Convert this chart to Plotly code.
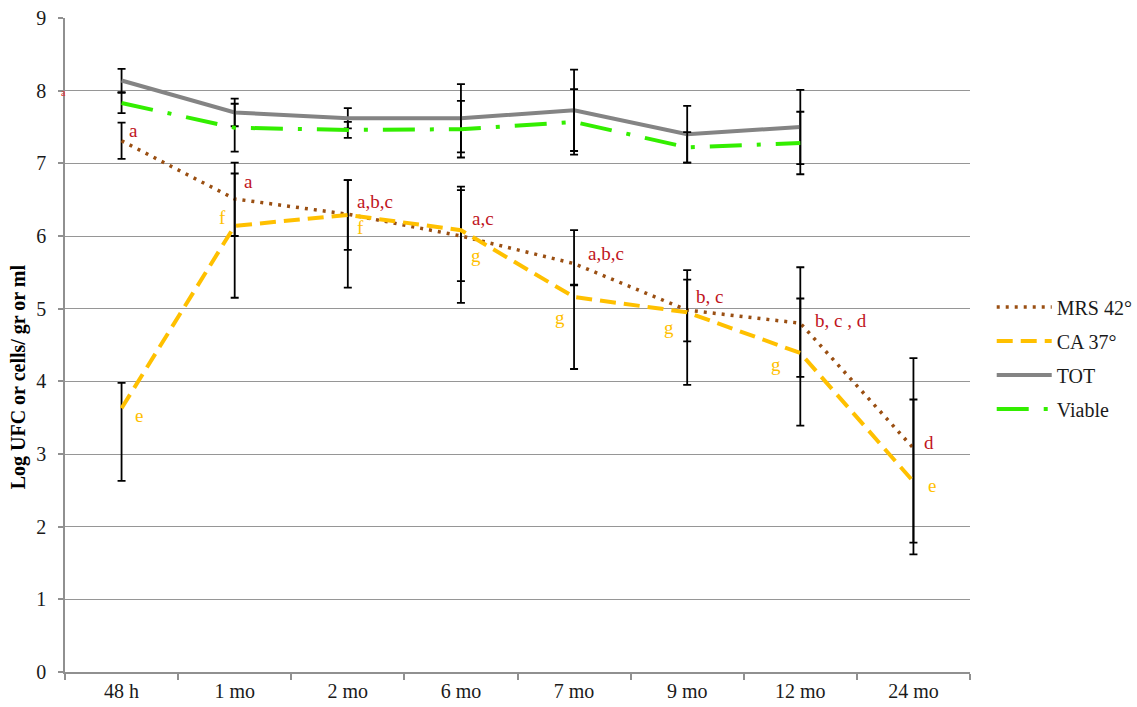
import plotly.graph_objects as go

# Sampling times
categories = ["48 h", "1 mo", "2 mo", "6 mo", "7 mo", "9 mo", "12 mo", "24 mo"]

# MRS 42° counts with upper / lower error
mrs = [7.31, 6.51, 6.30, 6.00, 5.62, 4.98, 4.80, 3.08]
mrs_up = [0.25, 0.50, 0.47, 0.63, 0.46, 0.55, 0.77, 1.24]
mrs_dn = [0.25, 0.51, 0.49, 0.62, 0.30, 0.43, 0.74, 1.30]

# CA 37° counts with upper / lower error
ca = [3.63, 6.14, 6.29, 6.08, 5.16, 4.95, 4.39, 2.62]
ca_up = [0.35, 0.72, 0.48, 0.60, 0.17, 0.45, 0.75, 1.13]
ca_dn = [1.00, 0.99, 1.00, 1.00, 0.99, 1.00, 1.00, 1.00]

# Total and viable cells (no 24 mo sample)
tot = [8.14, 7.70, 7.62, 7.62, 7.73, 7.40, 7.50]
tot_err = [0.16, 0.19, 0.14, 0.47, 0.56, 0.39, 0.51]
viable = [7.83, 7.49, 7.46, 7.47, 7.57, 7.22, 7.28]
viable_err = [0.14, 0.33, 0.11, 0.39, 0.45, 0.21, 0.43]

# Significance letters
mrs_labels = ["a", "a", "a,b,c", "a,c", "a,b,c", "b, c", "b, c , d", "d"]
ca_labels = ["e", "f", "f", "g", "g", "g", "g", "e"]

# Label placement (xanchor, xshift px, yshift px)
mrs_label_pos = [("left", 5, 10), ("left", 7, 17), ("left", 7, 13), ("left", 9, 18),
                 ("left", 12, 10), ("left", 7, 14), ("left", 13, 3), ("left", 9, 6)]
ca_label_pos = [("left", 11, -7), ("right", -7, 8), ("left", 7, -13), ("left", 8, -25),
                ("right", -7, -20), ("right", -11, -15), ("right", -17, -12), ("left", 13, -4)]

SERIF = "Liberation Serif"
MRS_C = "#9A4F12"
CA_C = "#FFC000"
TOT_C = "#848484"
VIA_C = "#33EE00"
LAB_RED = "#C0141C"
TXT = "#1a1a1a"


def err(up, dn=None):
    e = dict(type="data", array=up, color="black", thickness=1.8, width=4, visible=True)
    if dn is None:
        e["symmetric"] = True
    else:
        e["symmetric"] = False
        e["arrayminus"] = dn
    return e


fig = go.Figure()
fig.add_trace(go.Scatter(x=categories, y=mrs, name="MRS 42°", mode="lines",
                         line=dict(color=MRS_C, width=3.5, dash="3px,6px"),
                         error_y=err(mrs_up, mrs_dn), legendgroup="g1"))
fig.add_trace(go.Scatter(x=categories, y=ca, name="CA 37°", mode="lines",
                         line=dict(color=CA_C, width=4, dash="16px,8px"),
                         error_y=err(ca_up, ca_dn), legendgroup="g2"))
fig.add_trace(go.Scatter(x=categories[:len(tot)], y=tot, name="TOT", mode="lines",
                         line=dict(color=TOT_C, width=4),
                         error_y=err(tot_err), legendgroup="g3"))
fig.add_trace(go.Scatter(x=categories[:len(viable)], y=viable, name="Viable", mode="lines",
                         line=dict(color=VIA_C, width=4, dash="32px,15px,4px,15px"),
                         error_y=err(viable_err), legendgroup="g4"))

annotations = []
for cat, val, txt, (xa, xs, ys) in zip(categories, mrs, mrs_labels, mrs_label_pos):
    annotations.append(dict(x=cat, y=val, xref="x", yref="y", text=txt, showarrow=False,
                            xanchor=xa, yanchor="middle", xshift=xs, yshift=ys,
                            font=dict(family=SERIF, size=19, color=LAB_RED)))
for cat, val, txt, (xa, xs, ys) in zip(categories, ca, ca_labels, ca_label_pos):
    annotations.append(dict(x=cat, y=val, xref="x", yref="y", text=txt, showarrow=False,
                            xanchor=xa, yanchor="middle", xshift=xs, yshift=ys,
                            font=dict(family=SERIF, size=19, color=CA_C)))

# small stray letter next to the axis
annotations.append(dict(x=-0.002, y=7.97, xref="paper", yref="y", text="a", showarrow=False,
                        xanchor="center", yanchor="middle",
                        font=dict(family=SERIF, size=10, color="#E03030")))

# y-axis title
annotations.append(dict(x=-0.052, y=0.452, xref="paper", yref="paper",
                        text="<b>Log UFC or cells/ gr or ml</b>", textangle=-90,
                        showarrow=False, xanchor="center", yanchor="middle",
                        font=dict(family=SERIF, size=20, color="black")))

fig.update_layout(
    width=1137, height=707,
    margin=dict(l=65, r=167, t=18, b=35, autoexpand=False),
    paper_bgcolor="white", plot_bgcolor="white",
    font=dict(family=SERIF, size=20, color=TXT),
    showlegend=True,
    legend=dict(x=1.024, y=0.588, xanchor="left", yanchor="top",
                font=dict(family=SERIF, size=20, color=TXT),
                itemwidth=55, tracegroupgap=5, bgcolor="rgba(0,0,0,0)"),
    annotations=annotations,
)
fig.update_xaxes(
    type="category", range=[-0.5, 7.5], showgrid=False, automargin=False,
    showline=True, linecolor="#909090", linewidth=1.5,
    ticks="outside", tickson="boundaries", ticklen=6, tickcolor="#909090", tickwidth=1.5,
    tickfont=dict(family=SERIF, size=20, color=TXT),
)
fig.update_yaxes(
    range=[0, 9], dtick=1, showgrid=True, gridcolor="#969696", gridwidth=1.4,
    showline=True, linecolor="#909090", linewidth=1.5, zeroline=False, automargin=False,
    ticks="outside", ticklen=5, tickcolor="#909090", tickwidth=1.5,
    ticklabelstandoff=8,
    tickfont=dict(family=SERIF, size=20, color=TXT),
)

fig.write_html("out.html")
